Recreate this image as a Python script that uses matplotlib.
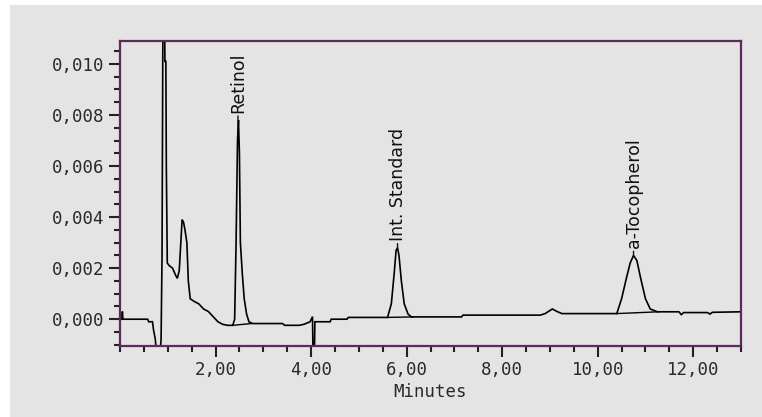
import matplotlib
matplotlib.use('Agg')
import matplotlib.pyplot as plt
import matplotlib.ticker as mticker
from matplotlib.patches import Rectangle

# colours
panel = '#e4e4e4'
frame = '#5e2a5e'
trace_c = '#000000'

# chromatogram trace (minutes, AU)
minutes = [0.00, 0.04, 0.05, 0.06, 0.58, 0.60, 0.68, 0.70, 0.74, 0.76, 0.84, 0.86,
           0.88, 0.90, 0.93, 0.94, 0.96, 0.97, 0.99, 1.03, 1.10, 1.17, 1.20, 1.24,
           1.27, 1.30, 1.33, 1.36, 1.40, 1.43, 1.47, 1.55, 1.65, 1.75, 1.85, 1.95,
           2.05, 2.15, 2.25, 2.36, 2.40, 2.43, 2.46, 2.48, 2.50, 2.52, 2.56, 2.60,
           2.65, 2.70, 2.78, 3.40, 3.45, 3.75, 3.85, 3.98, 4.03, 4.04, 4.07, 4.08,
           4.40, 4.42, 4.75, 4.78, 5.60, 5.68, 5.74, 5.78, 5.81, 5.84, 5.89, 5.95,
           6.03, 6.10, 7.15, 7.18, 8.80, 8.90, 9.05, 9.15, 9.25, 10.40, 10.50, 10.60,
           10.68, 10.75, 10.82, 10.90, 11.00, 11.10, 11.25, 11.70, 11.75, 11.80, 12.30,
           12.35, 12.40, 13.00]
signal = [0.0, 0.0, 0.0003, 0.0, 0.0, -0.0001, -0.0001, -0.0004, -0.0008, -0.0013, -0.0013, -0.0008,
          0.0025, 0.0125, 0.0125, 0.0101, 0.0101, 0.0060, 0.0022, 0.0021, 0.0020, 0.0017, 0.0016, 0.0019,
          0.0029, 0.0039, 0.0038, 0.0035, 0.0030, 0.0015, 0.0008, 0.0007, 0.0006, 0.0004, 0.0003, 0.0001,
          -0.0001, -0.0002, -0.00024, -0.00024, 0.0, 0.0030, 0.0070, 0.0078, 0.0065, 0.0030, 0.0018, 0.0008,
          0.0002, -0.0001, -0.00017, -0.00017, -0.00024, -0.00024, -0.0002, -0.0001, 0.0001, -0.0013, -0.0013, -0.0001,
          -0.0001, 0.0, 0.0, 0.00007, 0.00007, 0.0006, 0.0018, 0.0027, 0.0028, 0.0025, 0.0015, 0.0006,
          0.0002, 0.00009, 0.00009, 0.00016, 0.00016, 0.00022, 0.0004, 0.0003, 0.00022, 0.00022, 0.0008, 0.0016,
          0.0022, 0.0025, 0.0023, 0.0016, 0.0008, 0.0004, 0.00029, 0.00029, 0.00018, 0.00026, 0.00026,
          0.0002, 0.00027, 0.00029]

# integration baselines under the named peaks
base_start = [(2.36, -0.00024), (5.60, 0.00007), (10.40, 0.00022)]
base_end = [(2.75, -0.00017), (6.13, 0.00009), (11.27, 0.00029)]

# peak labels
peak_names = ['Retinol', 'Int. Standard', 'a-Tocopherol']
peak_times = [2.47, 5.81, 10.75]
peak_tops = [0.0078, 0.0028, 0.0025]

x_major = [2, 4, 6, 8, 10, 12]

fig = plt.figure(figsize=(7.62, 4.17), dpi=100)
fig.patch.set_facecolor('white')
fig.patches.append(Rectangle((10 / 762, 0), 1, 1 - 5 / 417, transform=fig.transFigure,
                             facecolor=panel, edgecolor='none', zorder=-10))

ax = fig.add_axes([120 / 762, 1 - 346 / 417, 621 / 762, 305 / 417])
ax.set_facecolor(panel)

ax.plot(minutes, signal, color=trace_c, linewidth=1.2, solid_joinstyle='miter')
for (x0, y0), (x1, y1) in zip(base_start, base_end):
    ax.plot([x0, x1], [y0, y1], color=trace_c, linewidth=1.0)

for name, t, top in zip(peak_names, peak_times, peak_tops):
    ax.annotate(name, xy=(t, top), xytext=(0, 5), textcoords='offset points',
                rotation=90, ha='center', va='bottom', fontsize=12.5,
                family='DejaVu Sans', color='#111111',
                arrowprops=dict(arrowstyle='-', color='#111111', lw=1, shrinkA=0, shrinkB=0))

ax.set_xlim(0, 13.0)
ax.set_ylim(-0.00105, 0.0109)

ax.xaxis.set_major_locator(mticker.FixedLocator(x_major))
ax.xaxis.set_minor_locator(mticker.MultipleLocator(0.5))
ax.yaxis.set_major_locator(mticker.MultipleLocator(0.002))
ax.yaxis.set_minor_locator(mticker.MultipleLocator(0.0005))
ax.xaxis.set_major_formatter(mticker.FuncFormatter(lambda v, p: f'{v:.2f}'.replace('.', ',')))
ax.yaxis.set_major_formatter(mticker.FuncFormatter(lambda v, p: f'{v:.3f}'.replace('.', ',')))

ax.tick_params(which='major', length=8, width=1.5, color='#222222', labelsize=12.5,
               labelcolor='#2a2a2a')
ax.tick_params(which='minor', length=4, width=1.5, color='#222222')
ax.tick_params(axis='x', which='major', pad=3)
ax.tick_params(axis='y', which='major', pad=3)
for lab in ax.get_xticklabels() + ax.get_yticklabels():
    lab.set_family('DejaVu Sans Mono')

ax.set_xlabel('Minutes', fontsize=12.5, family='DejaVu Sans Mono', color='#2a2a2a', labelpad=3)

for s in ax.spines.values():
    s.set_color(frame)
    s.set_linewidth(1.6)

fig.savefig('out.png', dpi=100, facecolor=fig.get_facecolor())
